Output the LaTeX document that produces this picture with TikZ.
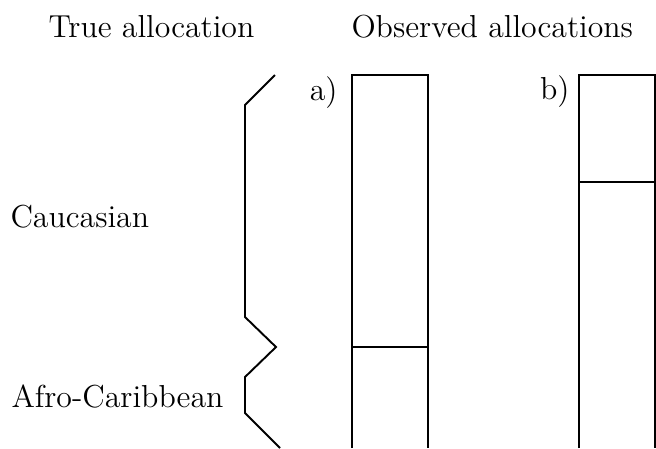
\documentclass[tikz,border=0pt]{standalone}
\usepackage{xcolor}
\usepackage{tikz}
\definecolor{ink}{HTML}{000000}
\tikzset{
  bar/.style={draw=ink, line width=0.75pt},
  brace/.style={draw=ink, line width=0.75pt, line join=miter},
  lab/.style={text=ink, font=\fontsize{12.4}{15}\selectfont, inner sep=0pt}
}

\begin{document}
\begin{tikzpicture}[x=0.39pt, y=-0.39pt]
  \useasboundingbox (0,0) rectangle (656,448);
  \clip (0,0) rectangle (656,448);

  % Headings
  \node[lab, anchor=base west] (truehead) at (48,37) {True allocation};
  \node[lab, anchor=base west] (obshead) at (351,37) {Observed allocations};

  % Group labels
  \node[lab, anchor=base west] (cauc) at (10,227) {Caucasian};
  \node[lab, anchor=base west] (afro) at (11,407) {Afro-Caribbean};

  % Bracket splitting the true groups
  \draw[brace] (275,75) -- (245,105) -- (245,317) -- (276,347)
    -- (245,377) -- (245,413) -- (280,448);

  % Column a)
  \def\bartop{75}
  \node[lab, anchor=base east] (alab) at (338,100) {a)};
  \draw[bar] (352,448) -- (352,\bartop) -- (428,\bartop) -- (428,448);
  \draw[bar] (352,347) -- (428,347);

  % Column b)
  \node[lab, anchor=base east] (blab) at (570,99) {b)};
  \draw[bar] (579,448) -- (579,\bartop) -- (655,\bartop) -- (655,448);
  \draw[bar] (579,182) -- (655,182);
\end{tikzpicture}
\end{document}
